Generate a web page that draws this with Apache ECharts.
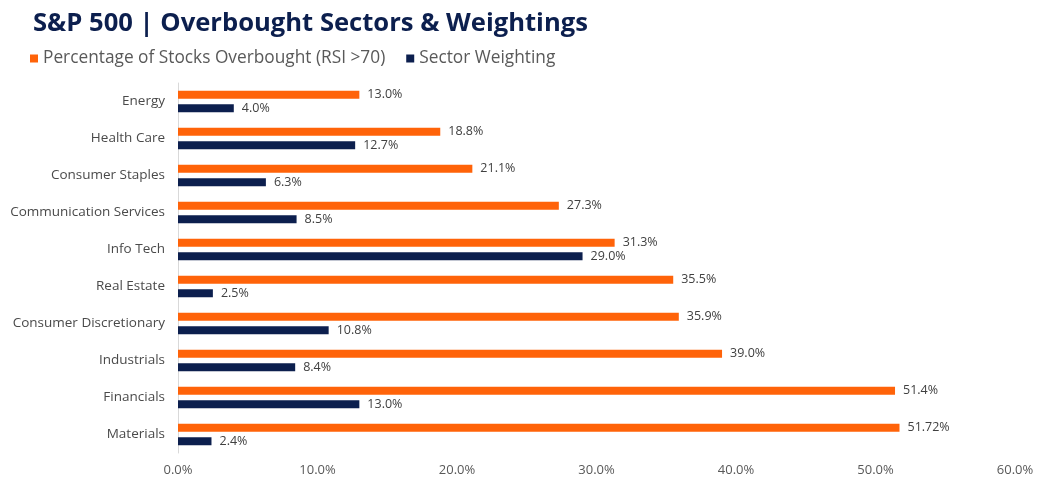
<!DOCTYPE html>
<html><head><meta charset="utf-8">
<script src="https://cdn.jsdelivr.net/npm/echarts@6/dist/echarts.min.js"></script>
<style>html,body{margin:0;padding:0;background:#fff}#c{width:1050px;height:490px}</style>
</head><body><div id="c"></div>
<script>
const categories = ['Energy','Health Care','Consumer Staples','Communication Services','Info Tech','Real Estate','Consumer Discretionary','Industrials','Financials','Materials'];
const overbought = [13.0,18.8,21.1,27.3,31.3,35.5,35.9,39.0,51.4,51.72];
const weighting = [4.0,12.7,6.3,8.5,29.0,2.5,10.8,8.4,13.0,2.4];
const seriesNames = ['Percentage of Stocks Overbought (RSI >70)','Sector Weighting'];
const titleText = 'S&P 500 | Overbought Sectors & Weightings';

const fmt = v => (Math.abs(v*10 - Math.round(v*10)) < 1e-9 ? v.toFixed(1) : String(v)) + '%';
const FONT = 'Open Sans';
const chart = echarts.init(document.getElementById('c'));
chart.setOption({
  animation:false,
  title:{text:titleText,left:28,top:6,textStyle:{fontFamily:FONT,fontWeight:'bold',fontSize:25.6,color:'#0C1F4E'}},
  legend:{left:25,top:45,itemWidth:8,itemHeight:8,itemGap:21,icon:'rect',
    textStyle:{fontFamily:FONT,fontSize:17.3,color:'#595959',padding:[0,0,0,0]}},
  grid:{left:178,right:35,top:83,bottom:37,containLabel:false},
  xAxis:{type:'value',min:0,max:60,interval:10,
    axisLabel:{formatter:v=>v.toFixed(1)+'%',fontFamily:FONT,fontSize:13,color:'#595959',margin:11},
    axisLine:{show:false},axisTick:{show:false},splitLine:{show:false}},
  yAxis:{type:'category',data:categories,inverse:true,
    axisLabel:{fontFamily:FONT,fontSize:13.5,color:'#4A4A4A',margin:13},
    axisLine:{show:true,lineStyle:{color:'#D9D9D9',width:1}},axisTick:{show:false}},
  series:[
    {name:seriesNames[0],type:'bar',data:overbought,barWidth:8,barGap:'70%',
     itemStyle:{color:'#FF6309'},
     label:{show:true,position:'right',formatter:p=>fmt(p.value),fontFamily:FONT,fontSize:12.5,color:'#404040',distance:8}},
    {name:seriesNames[1],type:'bar',data:weighting,barWidth:8,
     itemStyle:{color:'#0C1F4E'},
     label:{show:true,position:'right',formatter:p=>fmt(p.value),fontFamily:FONT,fontSize:12.5,color:'#404040',distance:8}}
  ]
});
</script></body></html>
